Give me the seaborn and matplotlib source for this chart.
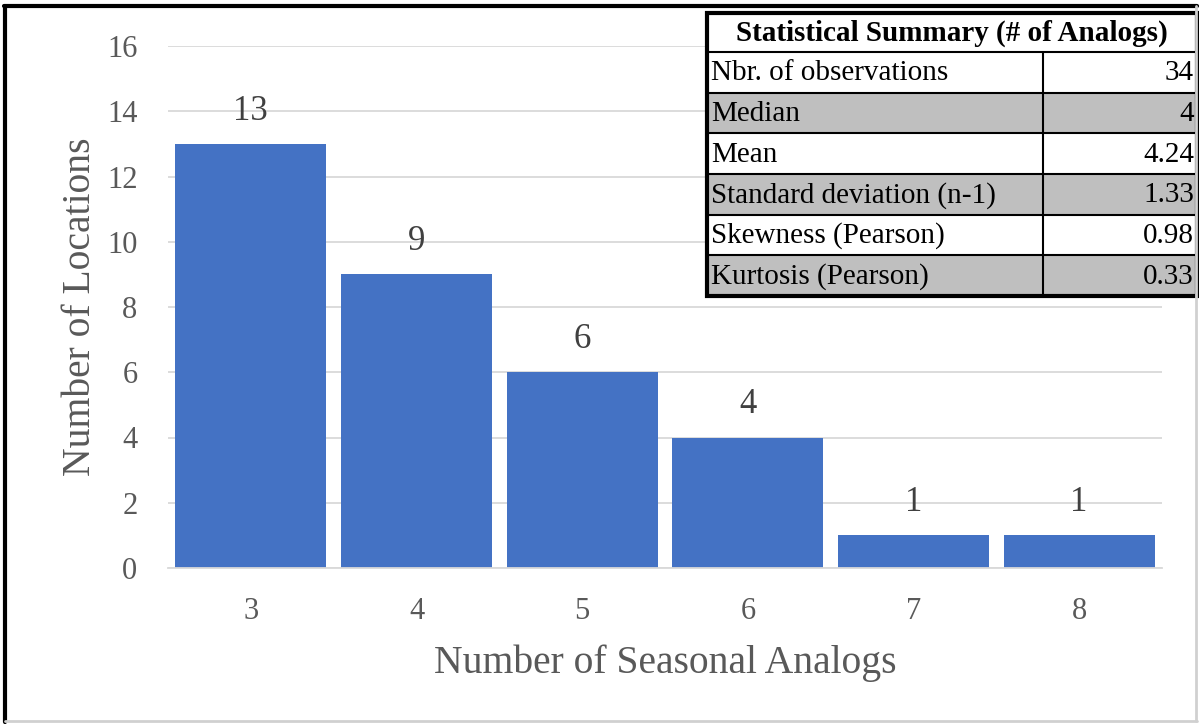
import matplotlib
matplotlib.use("Agg")
import matplotlib.pyplot as plt
import seaborn as sns
import pandas as pd
from matplotlib.patches import Rectangle
from matplotlib.lines import Line2D

# Distribution of seasonal analog counts across locations
analogs = ["3", "4", "5", "6", "7", "8"]
locations = [13, 9, 6, 4, 1, 1]

# Summary statistics table
stat_names = ["Nbr. of observations", "Median", "Mean",
              "Standard deviation (n-1)", "Skewness (Pearson)", "Kurtosis (Pearson)"]
stat_values = ["34", "4", "4.24", "1.33", "0.98", "0.33"]
table_title = "Statistical Summary (# of Analogs)"

sns.set_theme(style="white")
plt.rcParams["font.family"] = ["Liberation Serif", "DejaVu Serif"]

W, H = 1199, 724
fig = plt.figure(figsize=(W / 100, H / 100), dpi=100)
fig.patch.set_facecolor("white")

def fx(px):
    return px / W

def fy(py):
    return 1 - py / H

# Main plotting area
left, right, top, bottom = 168, 1162, 46, 568
ax = fig.add_axes([fx(left), fy(bottom), fx(right - left), (bottom - top) / H])

df = pd.DataFrame({"analogs": analogs, "locations": locations})
sns.barplot(data=df, x="analogs", y="locations", color="#4472C4",
            saturation=1, width=0.91, ax=ax, edgecolor="none")

ax.set_xlim(-0.5, len(analogs) - 0.5)
ax.set_ylim(0, 16)
ax.set_yticks(range(0, 17, 2))
ax.yaxis.grid(True, color="#D9D9D9", linewidth=1.3)
ax.set_axisbelow(True)
for s in ["top", "right", "left"]:
    ax.spines[s].set_visible(False)
ax.spines["bottom"].set_color("#D9D9D9")
ax.spines["bottom"].set_linewidth(1.3)
ax.tick_params(axis="both", length=0, labelsize=22, labelcolor="#595959")
ax.tick_params(axis="y", pad=22)
ax.tick_params(axis="x", pad=21)

ax.set_xlabel("Number of Seasonal Analogs", fontsize=28.5, color="#595959", labelpad=13)
ax.set_ylabel("Number of Locations", fontsize=28.5, color="#595959", labelpad=6)

for i, v in enumerate(locations):
    ax.text(i, v + 0.5, str(v), ha="center", va="bottom", fontsize=25, color="#404040")

# Summary table drawn in its own axes
tx0, tx1, ty0, ty1 = 707, 1197, 13, 296
tax = fig.add_axes([fx(tx0), fy(ty1), fx(tx1 - tx0), (ty1 - ty0) / H])
tax.set_xlim(0, tx1 - tx0)
tax.set_ylim(ty1 - ty0, 0)
tax.axis("off")

tw = tx1 - tx0
th = ty1 - ty0
header_h = 39
row_h = (th - header_h) / len(stat_names)
split = 1043 - tx0

tax.add_patch(Rectangle((0, 0), tw, header_h, facecolor="white", edgecolor="none"))
tax.text(tw / 2, header_h / 2 + 1, table_title, ha="center", va="center",
         fontsize=21, fontweight="bold", color="black")
for i, (name, val) in enumerate(zip(stat_names, stat_values)):
    y0 = header_h + i * row_h
    fc = "#BFBFBF" if i % 2 == 1 else "white"
    tax.add_patch(Rectangle((0, y0), tw, row_h, facecolor=fc, edgecolor="none"))
    tax.text(4, y0 + row_h / 2 + 1, name, ha="left", va="center", fontsize=21, color="black")
    tax.text(tw - 3, y0 + row_h / 2 + 1, val, ha="right", va="center", fontsize=21, color="black")
    tax.add_line(Line2D([0, tw], [y0, y0], color="black", linewidth=1.5))
tax.add_line(Line2D([split, split], [header_h, th], color="black", linewidth=1.5))
tax.add_patch(Rectangle((0, 0), tw, th, facecolor="none", edgecolor="black",
                        linewidth=3, clip_on=False))

# Outer frame of the figure
fig.add_artist(Line2D([fx(5), fx(5)], [fy(6), fy(722)], color="black", linewidth=3))
fig.add_artist(Line2D([fx(4), fx(1197)], [fy(6), fy(6)], color="black", linewidth=3))
fig.add_artist(Line2D([fx(1196), fx(1196)], [fy(6), fy(721)], color="#D0D0D0", linewidth=2))
fig.add_artist(Line2D([fx(5), fx(1197)], [fy(721), fy(721)], color="#D0D0D0", linewidth=2))

fig.savefig("out.png", dpi=100, facecolor="white")
